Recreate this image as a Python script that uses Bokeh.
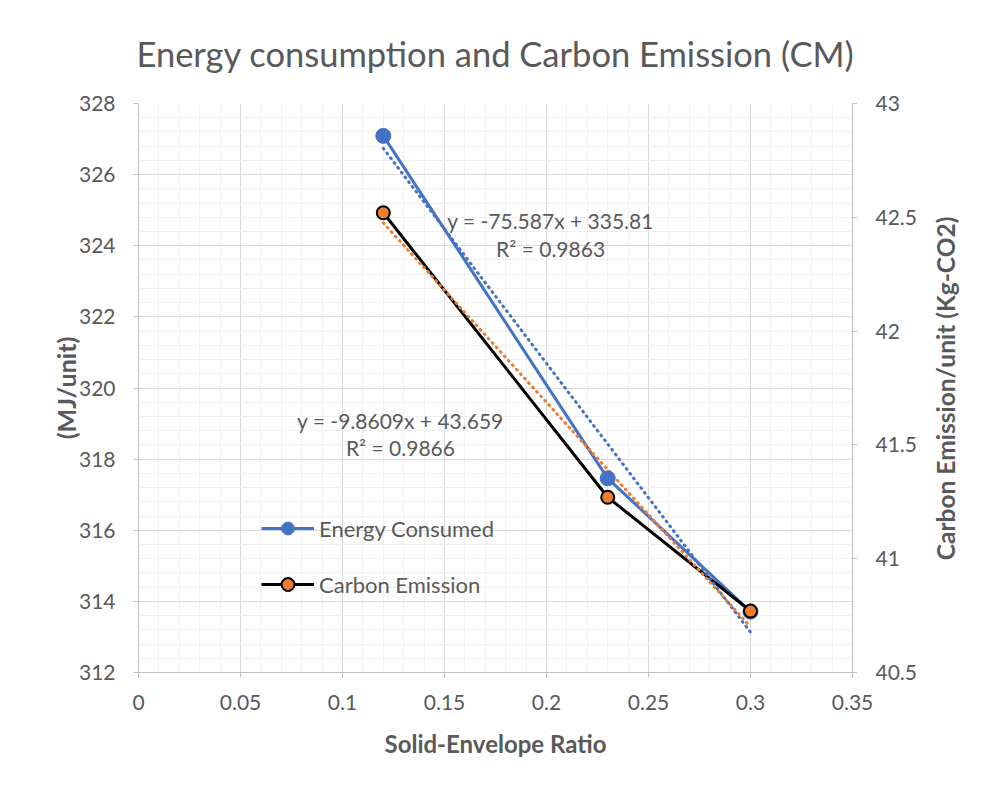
import math
from bokeh.plotting import figure
from bokeh.layouts import row
from bokeh.models import (Range1d, LinearAxis, SingleIntervalTicker, CustomJSTickFormatter,
                          Legend, LegendItem, ColumnDataSource)
from bokeh.core.properties import value
from bokeh.embed import file_html
from bokeh.resources import INLINE

# ---- data ----
ratio = [0.12, 0.23, 0.30]
energy = [327.09, 317.46, 313.71]
carbon = [42.52, 41.27, 40.77]
energy_fit = [-75.587, 335.81]
energy_r2 = 0.9863
carbon_fit = [-9.8609, 43.659]
carbon_r2 = 0.9866
series_names = ["Energy Consumed", "Carbon Emission"]

TITLE = "Energy consumption and Carbon Emission (CM)"
X_LABEL = "Solid-Envelope Ratio"
Y_LABEL = "(MJ/unit)"
Y2_LABEL = "Carbon Emission/unit (Kg-CO2)"

BLUE = "#4472C4"
ORANGE = "#ED7D31"
TXT = "#595959"
FONT = "Lato"

H = 773
RW = 41                    # strip on the right that holds the secondary axis title
PW = 966 - RW
MB_TOP, MB_BOTTOM = 102, 101

p = figure(width=PW, height=H, output_backend="svg", toolbar_location=None,
           x_range=Range1d(0, 0.3500001), y_range=Range1d(312, 328),
           min_border_left=138, min_border_right=PW - 852,
           min_border_top=MB_TOP, min_border_bottom=MB_BOTTOM)
p.extra_y_ranges = {"co2": Range1d(40.5, 43)}
p.outline_line_color = None
p.background_fill_color = "white"
p.border_fill_color = "white"

# title
p.title.text = TITLE
p.title.align = "center"
p.title.text_font = FONT
p.title.text_font_style = "normal"
p.title.text_font_size = "34.5px"
p.title.text_color = TXT
p.title.standoff = 60

# axes
xaxis = p.xaxis[0]
yaxis = p.yaxis[0]
xaxis.ticker = SingleIntervalTicker(interval=0.05, num_minor_ticks=5)
yaxis.ticker = SingleIntervalTicker(interval=2, num_minor_ticks=5)
xaxis.formatter = CustomJSTickFormatter(code="return tick.toFixed(2).replace(/\\.?0+$/, '') || '0';")

right = LinearAxis(y_range_name="co2", ticker=SingleIntervalTicker(interval=0.5, num_minor_ticks=5),
                   formatter=CustomJSTickFormatter(code="return tick.toFixed(1).replace(/\\.0$/, '');"))
p.add_layout(right, "right")

for ax in [xaxis, yaxis, right]:
    ax.axis_line_color = "#bfbfbf"
    ax.major_tick_line_color = "#bfbfbf"
    ax.major_tick_out = 5
    ax.major_tick_in = 0
    ax.minor_tick_line_color = None
    ax.major_label_text_font = FONT
    ax.major_label_text_font_size = "21px"
    ax.major_label_text_color = TXT
    ax.axis_label_text_font = FONT
    ax.axis_label_text_font_size = "24px"
    ax.axis_label_text_font_style = "bold"
    ax.axis_label_text_color = TXT

xaxis.axis_label = X_LABEL
xaxis.major_label_standoff = 17
xaxis.axis_label_standoff = 16
yaxis.axis_label = Y_LABEL
yaxis.axis_label_text_font_size = "25px"
yaxis.major_label_standoff = 18
yaxis.axis_label_standoff = -5
right.major_label_standoff = 18

# grids
for g in [p.xgrid[0], p.ygrid[0]]:
    g.grid_line_color = "#d9d9d9"
    g.grid_line_width = 1
    g.minor_grid_line_color = "#efefef"
    g.minor_grid_line_width = 1

# series lines
src_e = ColumnDataSource(dict(x=ratio, y=energy))
src_c = ColumnDataSource(dict(x=ratio, y=carbon))
le = p.line("x", "y", source=src_e, line_color=BLUE, line_width=3)
lc = p.line("x", "y", source=src_c, line_color="black", line_width=3, y_range_name="co2")

# trendlines (linear fits as given on the chart)
xe = [min(ratio), max(ratio)]
p.line(xe, [energy_fit[0] * v + energy_fit[1] for v in xe], line_color=BLUE, line_width=3,
       line_dash="1 5", line_cap="round")
p.line(xe, [carbon_fit[0] * v + carbon_fit[1] for v in xe], line_color=ORANGE, line_width=3,
       line_dash="1 5", line_cap="round", y_range_name="co2")

# markers
me = p.scatter("x", "y", source=src_e, size=15, fill_color=BLUE, line_color=BLUE, line_width=1)
mc = p.scatter("x", "y", source=src_c, size=13, fill_color=ORANGE, line_color="black", line_width=2,
               y_range_name="co2")

# trendline equations
def eq(fit):
    sign = "+" if fit[1] >= 0 else "-"
    return f"y = {fit[0]:g}x {sign} {abs(fit[1]):g}"

p.text(x=[0.202, 0.202], y=[324.71, 323.92], text=[eq(energy_fit), f"R² = {energy_r2}"],
       text_align="center", text_baseline="middle", text_font=value(FONT), text_font_size="21px",
       text_color=TXT)
p.text(x=[0.1284, 0.1284], y=[319.09, 318.33], text=[eq(carbon_fit), f"R² = {carbon_r2}"],
       text_align="center", text_baseline="middle", text_font=value(FONT), text_font_size="21px",
       text_color=TXT)

legend = Legend(items=[LegendItem(label=series_names[0], renderers=[le, me]),
                       LegendItem(label=series_names[1], renderers=[lc, mc])],
                location=(123, 72), orientation="vertical",
                background_fill_alpha=0, border_line_color=None,
                padding=0, margin=0, spacing=24, glyph_width=53, glyph_height=32,
                label_height=32, label_standoff=5,
                label_text_font=FONT, label_text_font_size="22px", label_text_color=TXT)
p.add_layout(legend, "center")

# secondary axis title, read bottom-to-top, centred on the plot area
frame_mid = H - (MB_TOP + (H - MB_TOP - MB_BOTTOM) / 2)
strip = figure(width=RW, height=H, output_backend="svg", toolbar_location=None,
               x_range=Range1d(0, RW), y_range=Range1d(0, H),
               x_axis_type=None, y_axis_type=None, min_border=0)
strip.outline_line_color = None
strip.grid.visible = False
strip.background_fill_color = "white"
strip.border_fill_color = "white"
strip.text(x=[945 - PW], y=[frame_mid], text=[Y2_LABEL], angle=math.pi / 2, text_align="center",
           text_baseline="middle", text_font=value(FONT), text_font_size="24.5px",
           text_font_style="bold", text_color=TXT)

layout = row(p, strip, spacing=0)
open("out.html", "w").write(file_html(layout, INLINE))
